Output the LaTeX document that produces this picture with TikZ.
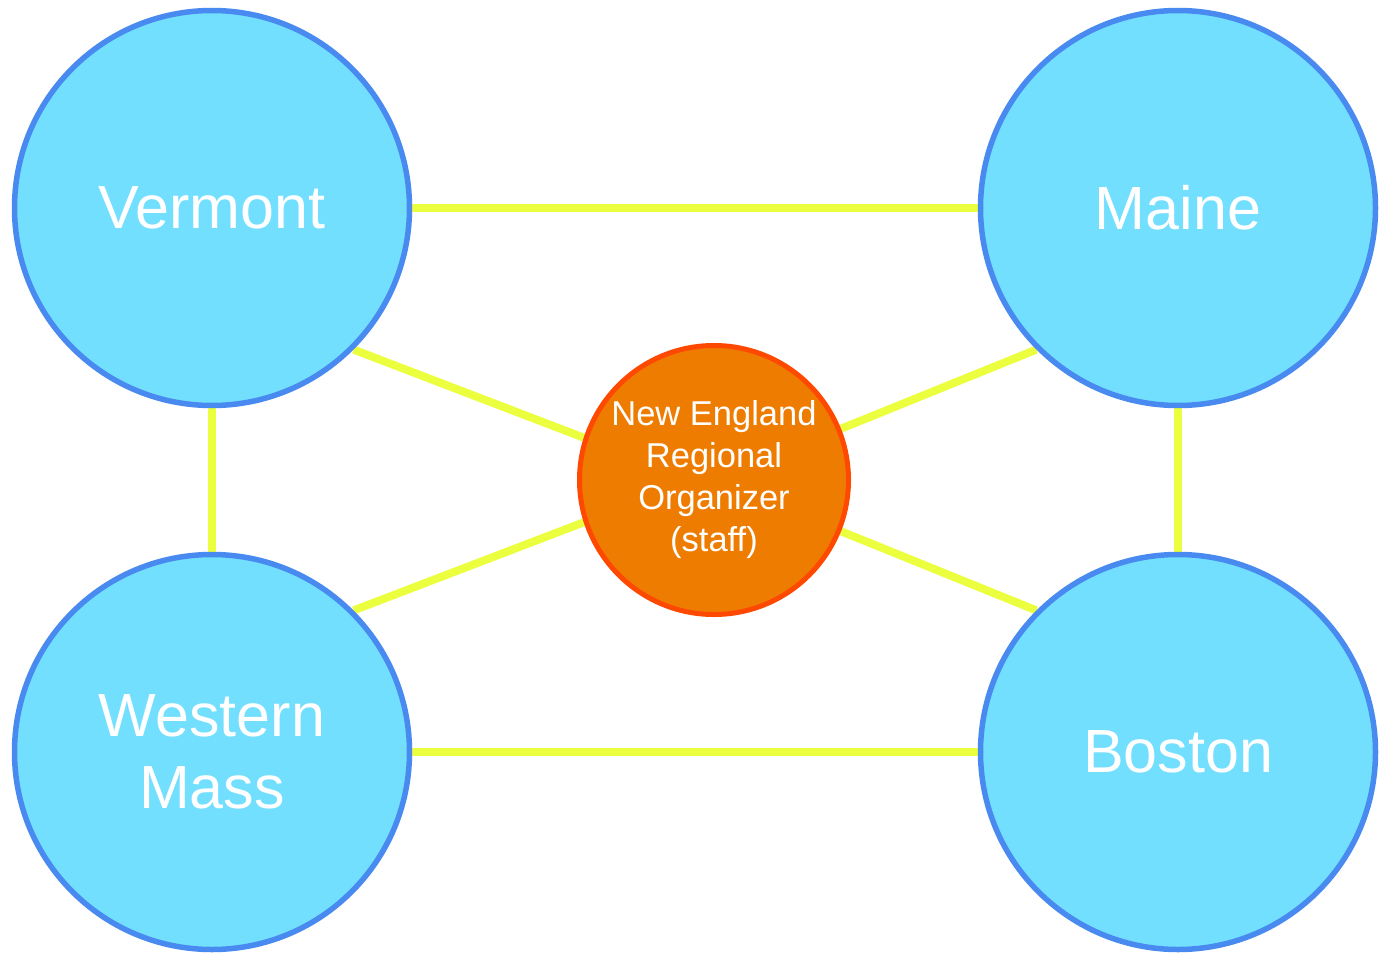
\documentclass[tikz,border=0pt]{standalone}
\usepackage{fontspec}
\setmainfont{Liberation Sans}
\usetikzlibrary{backgrounds}
\definecolor{bluefill}{RGB}{115,223,254}
\definecolor{blueline}{RGB}{72,138,240}
\definecolor{orangefill}{RGB}{238,124,0}
\definecolor{orangeline}{RGB}{255,72,0}
\definecolor{linkyellow}{RGB}{235,255,63}
\tikzset{
  region/.style={circle, draw=blueline, fill=bluefill, line width=5.5pt, minimum size=395pt, inner sep=0pt, text=white, align=center, font=\fontsize{61}{72}\selectfont},
  hub/.style={circle, draw=orangeline, fill=orangefill, line width=5pt, minimum size=269pt, inner sep=0pt, text=white, align=center, font=\fontsize{34.5}{42}\selectfont},
  link/.style={draw=linkyellow, line width=8pt}
}
\begin{document}
\begin{tikzpicture}[x=1pt, y=-1pt]
\useasboundingbox (0,0) rectangle (1389,961);
\node[region] (vt) at (212,208) {Vermont};
\node[region] (me) at (1178,208) {Maine};
\node[region] (wm) at (212,752) {Western\\Mass};
\node[region] (bo) at (1178,752) {Boston};
\node[hub] (ne) at (714,480) {New England\\Regional\\Organizer\\(staff)};
\begin{scope}[on background layer]
\draw[link] (vt.east) -- (me.west);
\draw[link] (wm.east) -- (bo.west);
\draw[link] (vt.south) -- (wm.north);
\draw[link] (me.south) -- (bo.north);
\draw[link] (vt.-45) -- (ne.162);
\draw[link] (me.-135) -- (ne.22);
\draw[link] (wm.45) -- (ne.-162);
\draw[link] (bo.135) -- (ne.-22);
\end{scope}
\end{tikzpicture}
\end{document}
